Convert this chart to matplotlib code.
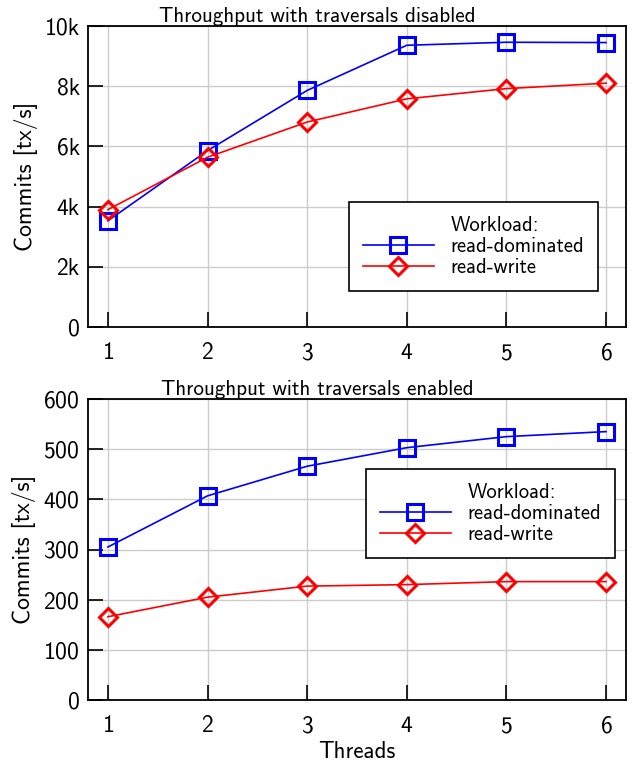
import os
import matplotlib
matplotlib.use("Agg")
import matplotlib.pyplot as plt
from matplotlib import font_manager as fm
from matplotlib.lines import Line2D
from matplotlib.ticker import FuncFormatter

# use the Computer Modern sans font that ships with matplotlib
cmss = os.path.join(matplotlib.get_data_path(), "fonts", "ttf", "cmss10.ttf")
fm.fontManager.addfont(cmss)
plt.rcParams['font.family'] = ['cmss10', 'DejaVu Sans']
plt.rcParams['axes.formatter.use_mathtext'] = True

threads = [1, 2, 3, 4, 5, 6]
disabled_read_dominated = [3530, 5860, 7860, 9360, 9460, 9450]
disabled_read_write = [3900, 5640, 6810, 7580, 7920, 8100]
enabled_read_dominated = [305, 407, 466, 503, 525, 535]
enabled_read_write = [166, 205, 227, 230, 236, 236]

titles = ["Throughput with traversals disabled", "Throughput with traversals enabled"]

W, H = 634, 771
fig = plt.figure(figsize=(W / 100, H / 100), dpi=100)
ax1 = fig.add_axes([88 / W, 1 - 327 / H, 538 / W, 301 / H])
ax2 = fig.add_axes([88 / W, 1 - 700 / H, 538 / W, 301 / H])


def style(ax, title):
    # pgfplots centres the title over the whole picture, not the axes
    ax.set_title(title, fontsize=15.2, pad=2, x=(317 - 88) / 538)
    ax.set_xlim(0.8, 6.2)
    ax.set_xticks(threads)
    ax.grid(True, color='#cccccc', lw=1.0)
    ax.set_axisbelow(True)
    ax.tick_params(direction='in', width=1.2, color='black', labelsize=17)
    ax.tick_params(axis='x', length=10.5, pad=11)
    ax.tick_params(axis='y', length=11, pad=6)
    for s in ax.spines.values():
        s.set_linewidth(1.3)
    ax.set_ylabel("Commits [tx/s]", fontsize=17, labelpad=5)


def draw(ax, rd, rw):
    ax.plot(threads, rd, color='#0000ff', lw=1.2, marker='s', ms=11,
            mfc='none', mew=2.2, label='read-dominated')
    ax.plot(threads, rw, color='#ff0000', lw=1.2, marker='D', ms=9,
            mfc='none', mew=2.2, label='read-write')


style(ax1, titles[0])
draw(ax1, disabled_read_dominated, disabled_read_write)
ax1.set_ylim(0, 10000)
ax1.set_yticks(range(0, 10001, 2000))
ax1.yaxis.set_major_formatter(FuncFormatter(lambda v, p: "0" if v == 0 else f"{int(v / 1000)}k"))

style(ax2, titles[1])
draw(ax2, enabled_read_dominated, enabled_read_write)
ax2.set_ylim(0, 600)
ax2.set_yticks(range(0, 601, 100))
ax2.set_xlabel("Threads", fontsize=16.5, labelpad=3)

# legend: "Workload:" is an entry with an empty handle, left-aligned like pgfplots
for ax, (lx, ly) in [(ax1, (349, 202)), (ax2, (366, 469))]:
    h, l = ax.get_legend_handles_labels()
    h = [Line2D([], [], color='none')] + h
    l = ["Workload:"] + l
    leg = fig.legend(h, l, bbox_to_anchor=(lx / W, 1 - ly / H), loc='upper left',
                     fancybox=False, edgecolor='black', framealpha=1,
                     fontsize=14.8, handlelength=3.45, handletextpad=0.8,
                     borderpad=0.68, labelspacing=0.1, borderaxespad=0)
    leg.get_frame().set_linewidth(1.2)

plt.savefig("out.png", dpi=100)
